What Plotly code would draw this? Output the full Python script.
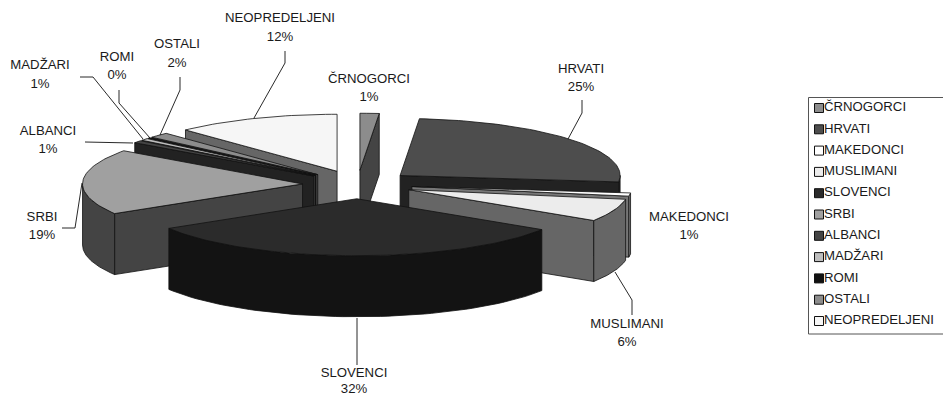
import numpy as np
import plotly.graph_objects as go

# --- data -----------------------------------------------------------------
categories = ["ČRNOGORCI", "HRVATI", "MAKEDONCI", "MUSLIMANI", "SLOVENCI", "SRBI",
              "ALBANCI", "MADŽARI", "ROMI", "OSTALI", "NEOPREDELJENI"]
shares = [1.4, 25.4, 0.9, 6.4, 32.2, 18.6, 0.7, 0.6, 0.2, 1.5, 12.1]

# --- styles ---------------------------------------------------------------
top_colors = ["#8c8c8c", "#4d4d4d", "#ffffff", "#ececec", "#2b2b2b", "#a0a0a0",
              "#444444", "#bdbdbd", "#111111", "#8c8c8c", "#f6f6f6"]
side_colors = ["#444444", "#222222", "#777777", "#666666", "#131313", "#444444",
               "#222222", "#555555", "#080808", "#444444", "#666666"]
FONT = "Liberation Sans, Arial, sans-serif"
TEXT = "#1a1a1a"
OUT = "#111111"

# --- pie geometry (pixels of the 943x397 page) ------------------------------
CX, CY, RX, RY, DEPTH, EXPLODE = 357.5, 184.5, 220, 57, 61, 0.25

label_at = {  # category: (centre x, name y, percent y)
    "NEOPREDELJENI": (280, 19, 38), "ČRNOGORCI": (369, 80, 98), "HRVATI": (581, 70, 88),
    "MAKEDONCI": (689, 218, 236), "MUSLIMANI": (627, 325, 343), "SLOVENCI": (354, 374, 390),
    "SRBI": (42, 218, 236), "ALBANCI": (48, 132, 150), "MADŽARI": (40, 66, 85),
    "ROMI": (117, 58, 76), "OSTALI": (177, 45, 64),
}
leaders = [
    [(285, 51), (285, 63), (254, 118)],
    [(582, 100), (582, 113), (568, 139)],
    [(632, 315), (632, 300), (615, 272)],
    [(357, 318), (357, 365)],
    [(62, 228), (75, 228), (82, 183)],
    [(85, 142), (133, 143)],
    [(80, 77), (93, 77), (143, 139)],
    [(119, 90), (119, 103), (150, 138)],
    [(180, 77), (180, 90), (160, 135)],
]

fig = go.Figure()


def poly(xs, ys, color):
    fig.add_trace(go.Scatter(
        x=list(xs) + [xs[0]], y=list(ys) + [ys[0]], mode="lines", fill="toself",
        fillcolor=color, line=dict(color=OUT, width=0.8), hoverinfo="skip", showlegend=False))


total = sum(shares)
edges = np.cumsum([0] + shares) / total * 2 * np.pi
slices = []
for i in range(len(shares)):
    a, b = edges[i], edges[i + 1]
    m = (a + b) / 2
    ax = CX + EXPLODE * RX * np.sin(m)
    ay = CY - EXPLODE * RY * np.cos(m)
    slices.append((np.cos(m), i, a, b, ax, ay))

# paint from the back of the pie towards the viewer
for _, i, a, b, ax, ay in sorted(slices, key=lambda s: -s[0]):
    px = lambda t: ax + RX * np.sin(t)
    py = lambda t: ay - RY * np.cos(t)
    side = side_colors[i]
    if np.sin(a) < 0:  # leading cut face
        poly([ax, px(a), px(a), ax], [ay, py(a), py(a) + DEPTH, ay + DEPTH], side)
    if np.sin(b) > 0:  # trailing cut face
        poly([ax, px(b), px(b), ax], [ay, py(b), py(b) + DEPTH, ay + DEPTH], side)
    lo, hi = max(a, np.pi / 2), min(b, 3 * np.pi / 2)
    if hi > lo:  # outer wall, front half only
        t = np.linspace(lo, hi, 60)
        poly(np.r_[px(t), px(t)[::-1]], np.r_[py(t), py(t)[::-1] + DEPTH], side)
    t = np.linspace(a, b, max(4, int((b - a) * 40)))
    poly(np.r_[ax, px(t)], np.r_[ay, py(t)], top_colors[i])

# labels on the pie
names_x = [label_at[c][0] for c in categories]
fig.add_trace(go.Scatter(
    x=names_x, y=[label_at[c][1] for c in categories], mode="text", text=categories,
    textposition="middle center", textfont=dict(family=FONT, size=13.2, color=TEXT),
    hoverinfo="skip", showlegend=False))
fig.add_trace(go.Scatter(
    x=names_x, y=[label_at[c][2] for c in categories], mode="text",
    text=[f"{round(v / total * 100)}%" for v in shares],
    textposition="middle center", textfont=dict(family=FONT, size=13.2, color=TEXT),
    hoverinfo="skip", showlegend=False))

# legend
LEG_X, LEG_TEXT_X, LEG_Y0, LEG_STEP = 819, 824, 108, 21.3
leg_y = [LEG_Y0 + LEG_STEP * k for k in range(len(categories))]
fig.add_trace(go.Scatter(
    x=[LEG_X] * len(categories), y=leg_y, mode="markers",
    marker=dict(symbol="square", size=9, color=top_colors, line=dict(color=OUT, width=1)),
    hoverinfo="skip", showlegend=False))
fig.add_trace(go.Scatter(
    x=[LEG_TEXT_X] * len(categories), y=leg_y, mode="text", text=categories,
    textposition="middle right", textfont=dict(family=FONT, size=13.2, color=TEXT),
    hoverinfo="skip", showlegend=False))

shapes = [dict(type="rect", x0=808.5, x1=950, y0=97.5, y1=334, xref="x", yref="y",
               line=dict(color="#555555", width=1), fillcolor="white", layer="below")]
for pts in leaders:
    path = "M " + " L ".join(f"{x} {y}" for x, y in pts)
    shapes.append(dict(type="path", path=path, xref="x", yref="y",
                       line=dict(color=OUT, width=0.9)))

fig.update_layout(
    width=943, height=397, autosize=False, margin=dict(l=0, r=0, t=0, b=0),
    paper_bgcolor="white", plot_bgcolor="white", showlegend=False, shapes=shapes,
    xaxis=dict(range=[0, 943], visible=False, fixedrange=True),
    yaxis=dict(range=[397, 0], visible=False, fixedrange=True),
)
fig.write_html("out.html", config={"displayModeBar": False},
               post_script="document.body.style.margin='0';document.body.style.overflow='hidden';")
